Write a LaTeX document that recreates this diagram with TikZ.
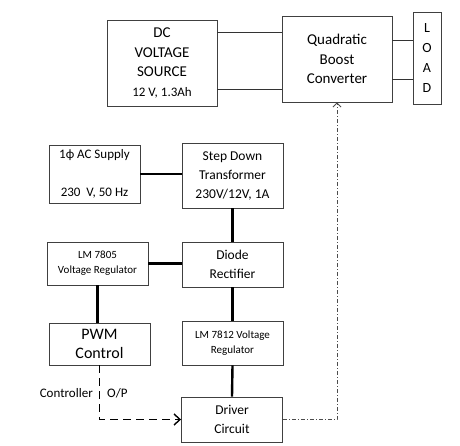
\documentclass[tikz,border=0pt]{standalone}
\usepackage{fontspec}
\setmainfont{Carlito}
\usetikzlibrary{arrows.meta}

\begin{document}
\begin{tikzpicture}[
x=1pt,y=-1pt,
box/.style={
draw=black!75,
line width=0.9pt,
align=center,
inner sep=0pt
},
big/.style={font=\fontsize{15}{19.5}\selectfont},
mid/.style={font=\fontsize{13.5}{19}\selectfont},
small/.style={font=\fontsize{11}{15}\selectfont},
wire/.style={line width=0.8pt,black!80},
link/.style={line width=2.4pt}
]
\useasboundingbox (0,0) rectangle (460,446);

% top part
\node[box,big,minimum width=110,minimum height=86] (src) at (162,63)
{DC\\VOLTAGE\\SOURCE\\{\fontsize{13}{19}\selectfont 12 V, 1.3Ah}};

\node[box,big,minimum width=110,minimum height=86] (qbc) at (337,59)
{Quadratic\\Boost\\Converter};

\node[box,font=\fontsize{14}{20.2}\selectfont,minimum width=28,minimum height=92] (load) at (427,58)
{L\\O\\A\\D};

\draw[wire] ([yshift=31]src.east) -- ([yshift=31]src.east -| qbc.west);
\draw[wire] ([yshift=-26]src.east) -- ([yshift=-26]src.east -| qbc.west);
\draw[wire] ([yshift=19]qbc.east) -- ([yshift=19]qbc.east -| load.west);
\draw[wire] ([yshift=-20]qbc.east) -- ([yshift=-20]qbc.east -| load.west);

% supply chain
\node[box,font=\fontsize{13}{16}\selectfont,minimum width=91,minimum height=58] (ac) at (94.5,174)
{1ϕ AC Supply\\[22pt]230\ \ V, 50 Hz};

\node[box,mid,minimum width=101,minimum height=65] (sdt) at (232.5,175.5)
{Step Down\\Transformer\\230V/12V, 1A};

\node[box,mid,minimum width=101,minimum height=45] (dr) at (232.5,264.5)
{Diode\\Rectifier};

\node[box,small,minimum width=101,minimum height=43] (reg5) at (97.5,263.5)
{LM 7805\\Voltage Regulator};

\node[box,font=\fontsize{16}{19}\selectfont,minimum width=101,minimum height=42] (pwm) at (99.5,344)
{PWM\\Control};

\node[box,small,minimum width=101,minimum height=44] (reg12) at (232.5,343)
{LM 7812 Voltage\\Regulator};

\node[box,mid,minimum width=101,minimum height=45] (drv) at (232,419.5)
{Driver\\Circuit};

\node[anchor=east,font=\fontsize{13}{15}\selectfont,inner sep=0pt] (ctl) at (93,393) {Controller};
\node[anchor=west,font=\fontsize{13}{15}\selectfont,inner sep=0pt] (op) at (107,393) {O/P};

\draw[link] (ac.east) -- (ac.east -| sdt.west);
\draw[link] (sdt.south) -- (dr.north);
\draw[link] (reg5.east) -- (reg5.east -| dr.west);
\draw[link] (dr.south) -- (reg12.north);
\draw[link] (reg5.south) -- (reg5.south |- pwm.north);
\draw[link] (reg12.south) -- (drv.north);

% control signals
\draw[line width=1.8pt,dash pattern=on 8pt off 5pt,-{Straight Barb[length=6pt,width=11pt,line width=1.4pt]}]
(pwm.south) |- (drv.west);
\draw[line width=0.7pt,black!70,dash pattern=on 4pt off 2pt on 1pt off 2pt,-{Straight Barb[length=4pt,width=8pt,line width=0.8pt]}]
(drv.east) -| (qbc.south);

\end{tikzpicture}
\end{document}
